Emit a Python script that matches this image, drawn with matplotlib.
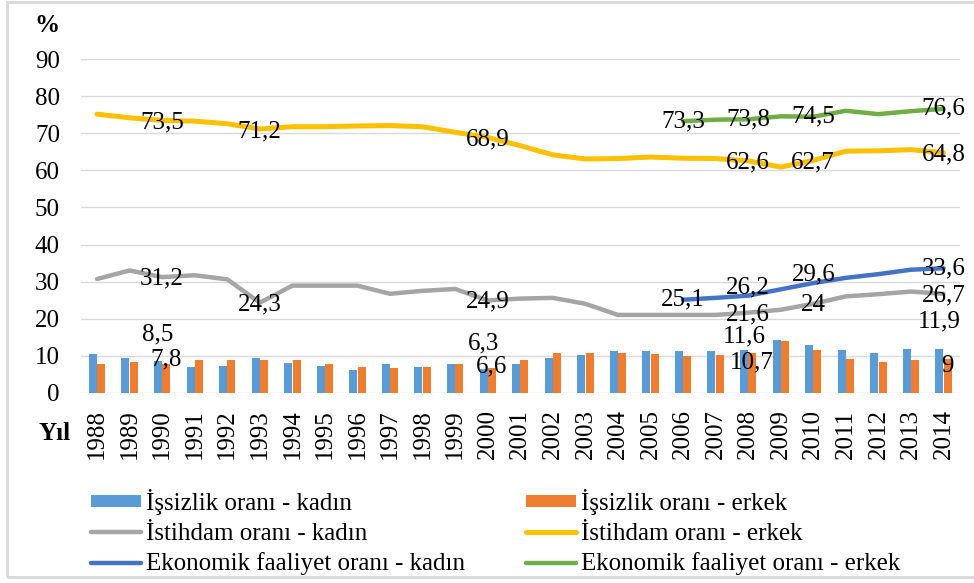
import numpy as np
import matplotlib.pyplot as plt
from matplotlib.patches import Rectangle

plt.rcParams['font.family'] = ['Liberation Serif', 'DejaVu Serif']

years = list(range(1988, 2015))

# İşsizlik oranı (bars)
issizlik_kadin = [10.5, 9.4, 8.5, 7.0, 7.3, 9.4, 8.0, 7.3, 6.0, 7.7, 7.0, 7.7, 6.3, 7.7,
                  9.4, 10.1, 11.2, 11.2, 11.2, 11.2, 11.6, 14.3, 12.9, 11.6, 10.8, 11.8, 11.9]
issizlik_erkek = [7.7, 8.4, 7.8, 8.8, 8.8, 8.8, 8.8, 7.7, 7.0, 6.7, 7.0, 7.7, 6.6, 8.8,
                  10.8, 10.8, 10.8, 10.5, 9.8, 10.1, 10.7, 13.9, 11.6, 9.1, 8.4, 8.8, 9.0]

# İstihdam oranı (lines)
istihdam_kadin = [30.7, 33.0, 31.2, 31.7, 30.6, 24.3, 28.9, 28.9, 28.9, 26.7, 27.5, 28.0, 24.9, 25.4,
                  25.6, 24.0, 21.0, 21.0, 21.0, 21.0, 21.6, 22.4, 24.0, 26.0, 26.6, 27.3, 26.7]
istihdam_erkek = [75.2, 74.2, 73.5, 73.3, 72.6, 71.2, 71.8, 71.8, 72.0, 72.1, 71.8, 70.3, 68.9, 66.7,
                  64.2, 63.1, 63.2, 63.6, 63.3, 63.2, 62.6, 60.9, 62.7, 65.2, 65.3, 65.6, 64.8]

# Ekonomik faaliyet oranı (2006-2014)
ef_years = list(range(2006, 2015))
ef_kadin = [25.1, 25.6, 26.2, 27.9, 29.6, 31.0, 32.0, 33.2, 33.6]
ef_erkek = [73.3, 73.7, 73.8, 74.6, 74.5, 76.1, 75.2, 76.0, 76.6]

# years that carry data labels
label_years = {
    'istihdam_erkek': [1990, 1993, 2000, 2008, 2010, 2014],
    'istihdam_kadin': [1990, 1993, 2000, 2008, 2010, 2014],
    'ef_kadin': [2006, 2008, 2010, 2014],
    'ef_erkek': [2006, 2008, 2010, 2014],
    'bars': [1990, 2000, 2008, 2014],
}

c_blue, c_orange = '#5B9BD5', '#ED7D31'
c_gray, c_yellow = '#A5A5A5', '#FFC000'
c_dblue, c_green = '#4472C4', '#70AD47'

fig = plt.figure(figsize=(9.74, 5.83), dpi=100)
ax = fig.add_axes([0.0829, 0.3264, 0.9025, 0.5719])

x = np.arange(len(years))
xe = np.array([years.index(y) for y in ef_years])
w = 0.245

b1 = ax.bar(x - w / 2 - 0.005, issizlik_kadin, w, color=c_blue, zorder=2)
b2 = ax.bar(x + w / 2 + 0.005, issizlik_erkek, w, color=c_orange, zorder=2)
l1, = ax.plot(x, istihdam_kadin, color=c_gray, lw=3.2, solid_capstyle='round', zorder=3)
l2, = ax.plot(x, istihdam_erkek, color=c_yellow, lw=3.6, solid_capstyle='round', zorder=3)
l3, = ax.plot(xe, ef_kadin, color=c_dblue, lw=3.2, solid_capstyle='round', zorder=3)
l4, = ax.plot(xe, ef_erkek, color=c_green, lw=3.2, solid_capstyle='round', zorder=3)

def fmt(v):
    s = ('%.1f' % v).replace('.', ',')
    return s[:-2] if s.endswith(',0') else s

fs = 18

def lab(xv, yv, dy=0):
    ax.annotate(fmt(yv), (xv, yv), xytext=(0, dy), textcoords='offset points',
                ha='center', va='center', fontsize=fs, zorder=5)

for y in label_years['istihdam_erkek']:
    lab(years.index(y), istihdam_erkek[years.index(y)], -1.5)
for y in label_years['istihdam_kadin']:
    lab(years.index(y), istihdam_kadin[years.index(y)], -1)
ef_dy = [0, 6, 6, 0]
for y, d in zip(label_years['ef_kadin'], ef_dy):
    lab(years.index(y), ef_kadin[ef_years.index(y)], d)
for y in label_years['ef_erkek']:
    lab(years.index(y), ef_erkek[ef_years.index(y)], 0)

bar_dy_k = [19, 19, 9.5, 19.5]
bar_dy_e = [3, 1, -7, -5]
for y, dk, de in zip(label_years['bars'], bar_dy_k, bar_dy_e):
    i = years.index(y)
    ax.annotate(fmt(issizlik_kadin[i]), (i - w / 2, issizlik_kadin[i]), xytext=(0, dk),
                textcoords='offset points', ha='center', va='center', fontsize=fs, zorder=5)
    ax.annotate(fmt(issizlik_erkek[i]), (i + w / 2, issizlik_erkek[i]), xytext=(0, de),
                textcoords='offset points', ha='center', va='center', fontsize=fs, zorder=5)

ax.set_xlim(-0.5, len(years) - 0.5)
ax.set_ylim(0, 90)
ax.set_yticks(range(0, 91, 10))
ax.set_xticks(x)
ax.set_xticklabels([str(y) for y in years], rotation=90)
ax.tick_params(axis='both', length=0, labelsize=fs)
ax.tick_params(axis='y', pad=15)
ax.tick_params(axis='x', pad=12)
ax.grid(axis='y', color='#D9D9D9', lw=1, zorder=0)
for s in ax.spines.values():
    s.set_visible(False)

fig.text(47 / 974, 1 - 25 / 583, '%', fontsize=fs, fontweight='bold', ha='center', va='center')
fig.text(55 / 974, 1 - 433 / 583, 'Yıl', fontsize=fs, fontweight='bold', ha='center', va='center')

leg_kw = dict(loc='center left', frameon=False, fontsize=fs, handlelength=2.0, handleheight=0.36,
              handletextpad=0.2, labelspacing=0.32, borderpad=0, borderaxespad=0)
leg1 = fig.legend([b1, l1, l3],
                  ['İşsizlik oranı - kadın', 'İstihdam oranı - kadın', 'Ekonomik faaliyet oranı - kadın'],
                  bbox_to_anchor=(91 / 974, 1 - 532 / 583), **leg_kw)
leg2 = fig.legend([b2, l2, l4],
                  ['İşsizlik oranı - erkek', 'İstihdam oranı - erkek', 'Ekonomik faaliyet oranı - erkek'],
                  bbox_to_anchor=(526 / 974, 1 - 532 / 583), **leg_kw)

fig.patches.append(Rectangle((7 / 974, 6 / 583), 1.0, 575 / 583, transform=fig.transFigure,
                             fill=False, edgecolor='#D9D9D9', lw=2))

fig.savefig('out.png', dpi=100)
